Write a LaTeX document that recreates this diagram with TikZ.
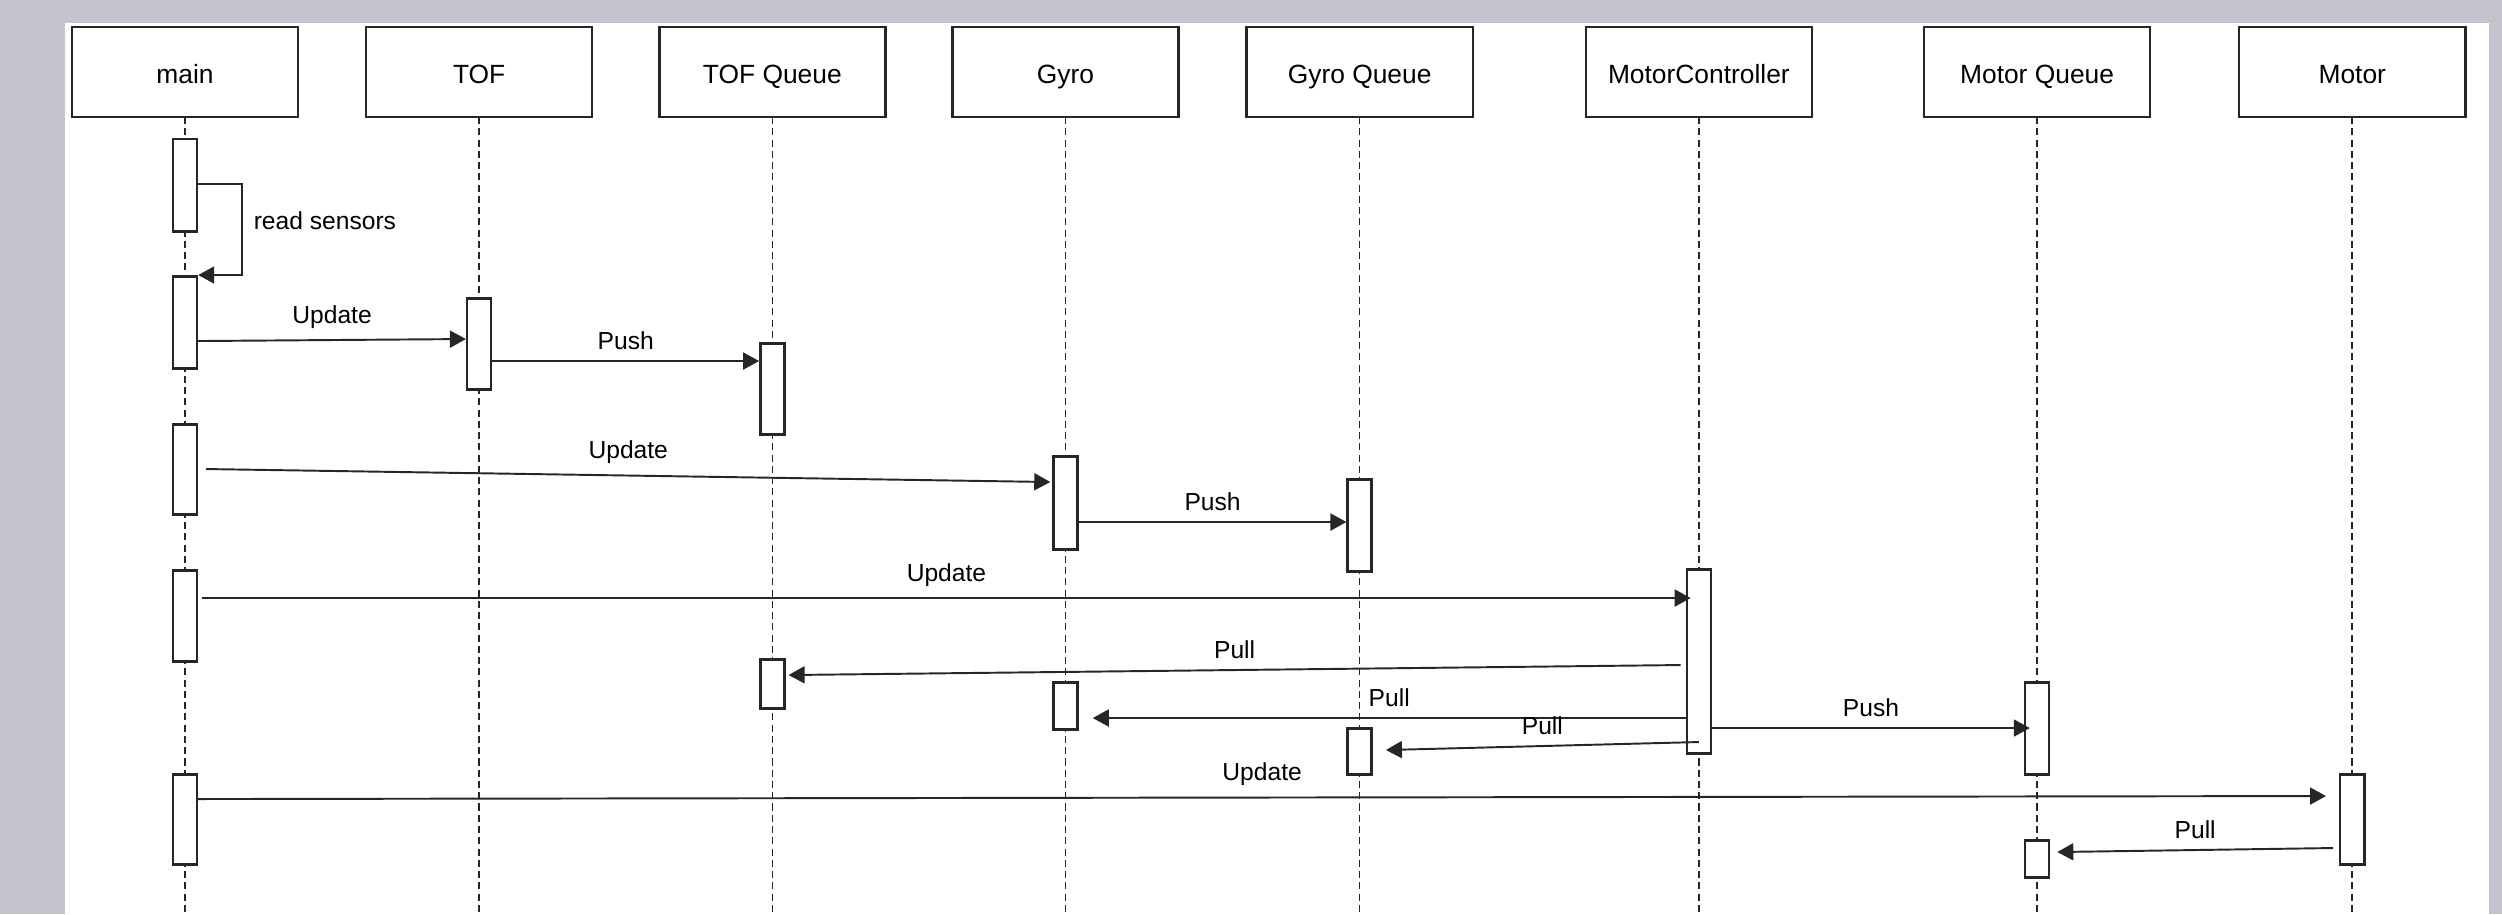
\documentclass[tikz,border=0pt]{standalone}
\usepackage{fontspec}
\setmainfont{Liberation Sans}
\definecolor{bggray}{HTML}{C5C4CD}
\definecolor{linegray}{HTML}{262626}
\usetikzlibrary{arrows.meta, positioning, calc}
\tikzset{
  lifebox/.style={draw=linegray, line width=0.7pt, fill=white,
                  minimum width=2.26cm, minimum height=0.9cm, inner sep=0pt, outer sep=0pt,
                  text height=1.55ex, text depth=0.35ex,
                  font=\fontsize{7.5}{9}\selectfont},
  lifeline/.style={draw=linegray, line width=0.45pt, dash pattern=on 2pt off 1.2pt},
  actbar/.style={draw=linegray, line width=0.7pt, fill=white,
                 minimum width=0.24cm, inner sep=0pt, anchor=north},
  msg/.style={-{Triangle[length=0.16cm, width=0.17cm]}, line width=0.55pt, draw=linegray},
  lbl/.style={font=\fontsize{7}{8}\selectfont, midway, above, inner sep=3pt},
}

\begin{document}
\begin{tikzpicture}[x=0.01cm, y=-0.01cm]
  \useasboundingbox (0,0) rectangle (2502,914);
  \fill[bggray] (0,0) rectangle (2502,914);
  \fill[white] (65,23) rectangle (2489,914);
  \coordinate (bottom) at (0,914);

  % participants
  \node[lifebox] (main) at (185,72) {main};
  \node[lifebox, right=0.68cm of main]  (tof)   {TOF};
  \node[lifebox, right=0.67cm of tof]   (tofq)  {TOF Queue};
  \node[lifebox, right=0.67cm of tofq]  (gyro)  {Gyro};
  \node[lifebox, right=0.68cm of gyro]  (gyroq) {Gyro Queue};
  \node[lifebox, right=1.13cm of gyroq] (mc)    {MotorController};
  \node[lifebox, right=1.12cm of mc]    (mq)    {Motor Queue};
  \node[lifebox, right=0.89cm of mq]    (motor) {Motor};

  % lifelines
  \draw[lifeline] (main.south)  -- (main.south |- bottom);
  \draw[lifeline] (tof.south)   -- (tof.south |- bottom);
  \draw[lifeline] (tofq.south)  -- (tofq.south |- bottom);
  \draw[lifeline] (gyro.south)  -- (gyro.south |- bottom);
  \draw[lifeline] (gyroq.south) -- (gyroq.south |- bottom);
  \draw[lifeline] (mc.south)    -- (mc.south |- bottom);
  \draw[lifeline] (mq.south)    -- (mq.south |- bottom);
  \draw[lifeline] (motor.south) -- (motor.south |- bottom);

  % activations
  \node[actbar, minimum height=0.92cm] (a1) at ($(main.south)+(0,21)$) {};
  \node[actbar, minimum height=0.92cm] (a2) at ($(main.south)+(0,158)$) {};
  \node[actbar, minimum height=0.90cm] (a3) at ($(main.south)+(0,306)$) {};
  \node[actbar, minimum height=0.91cm] (a4) at ($(main.south)+(0,452)$) {};
  \node[actbar, minimum height=0.90cm] (a5) at ($(main.south)+(0,656)$) {};
  \node[actbar, minimum height=0.91cm] (t1) at ($(tof.south)+(0,180)$) {};
  \node[actbar, minimum height=0.91cm] (tq1) at ($(tofq.south)+(0,225)$) {};
  \node[actbar, minimum height=0.49cm] (tq2) at ($(tofq.south)+(0,541)$) {};
  \node[actbar, minimum height=0.93cm] (g1) at ($(gyro.south)+(0,338)$) {};
  \node[actbar, minimum height=0.47cm] (g2) at ($(gyro.south)+(0,564)$) {};
  \node[actbar, minimum height=0.92cm] (gq1) at ($(gyroq.south)+(0,361)$) {};
  \node[actbar, minimum height=0.46cm] (gq2) at ($(gyroq.south)+(0,610)$) {};
  \node[actbar, minimum height=1.84cm] (mc1) at ($(mc.south)+(0,451)$) {};
  \node[actbar, minimum height=0.92cm] (mq1) at ($(mq.south)+(0,564)$) {};
  \node[actbar, minimum height=0.37cm] (mq2) at ($(mq.south)+(0,722)$) {};
  \node[actbar, minimum height=0.90cm] (mo1) at ($(motor.south)+(0,656)$) {};

  % messages
  \draw[msg] ($(a1.north east)+(0,46)$) -- ++(44,0)
        |- node[lbl, pos=0.2, right] {read sensors} (a2.north east);
  \draw[msg] ($(a2.north east)+(0,66)$) -- node[lbl]{Update} ($(t1.north west)+(0,42)$);
  \draw[msg] ($(t1.north east)+(0,64)$) -- node[lbl]{Push} ($(tq1.north west)+(0,19)$);
  \draw[msg] ($(a3.north east)+(8,46)$) -- node[lbl]{Update} ($(g1.north west)+(-2,27)$);
  \draw[msg] ($(g1.north east)+(0,67)$) -- node[lbl]{Push} ($(gq1.north west)+(0,44)$);
  \draw[msg] ($(a4.north east)+(4,29)$) -- node[lbl]{Update} ($(mc1.north west)+(5,30)$);
  \draw[msg] ($(mc1.north west)+(-5,97)$) -- node[lbl]{Pull} ($(tq2.north east)+(3,17)$);
  \draw[msg] ($(mc1.north west)+(0,150)$) -- node[lbl]{Pull} ($(g2.north east)+(14,37)$);
  \draw[msg] ($(mc1.north east)+(0,160)$) -- node[lbl]{Push} ($(mq1.north west)+(6,47)$);
  \draw[msg] ($(mc1.north)+(0,174)$) -- node[lbl]{Pull} ($(gq2.north east)+(13,23)$);
  \draw[msg] ($(a5.north east)+(0,26)$) -- node[lbl]{Update} ($(mo1.north west)+(-13,23)$);
  \draw[msg] ($(mo1.north west)+(-6,75)$) -- node[lbl]{Pull} ($(mq2.north east)+(7,13)$);
\end{tikzpicture}
\end{document}
